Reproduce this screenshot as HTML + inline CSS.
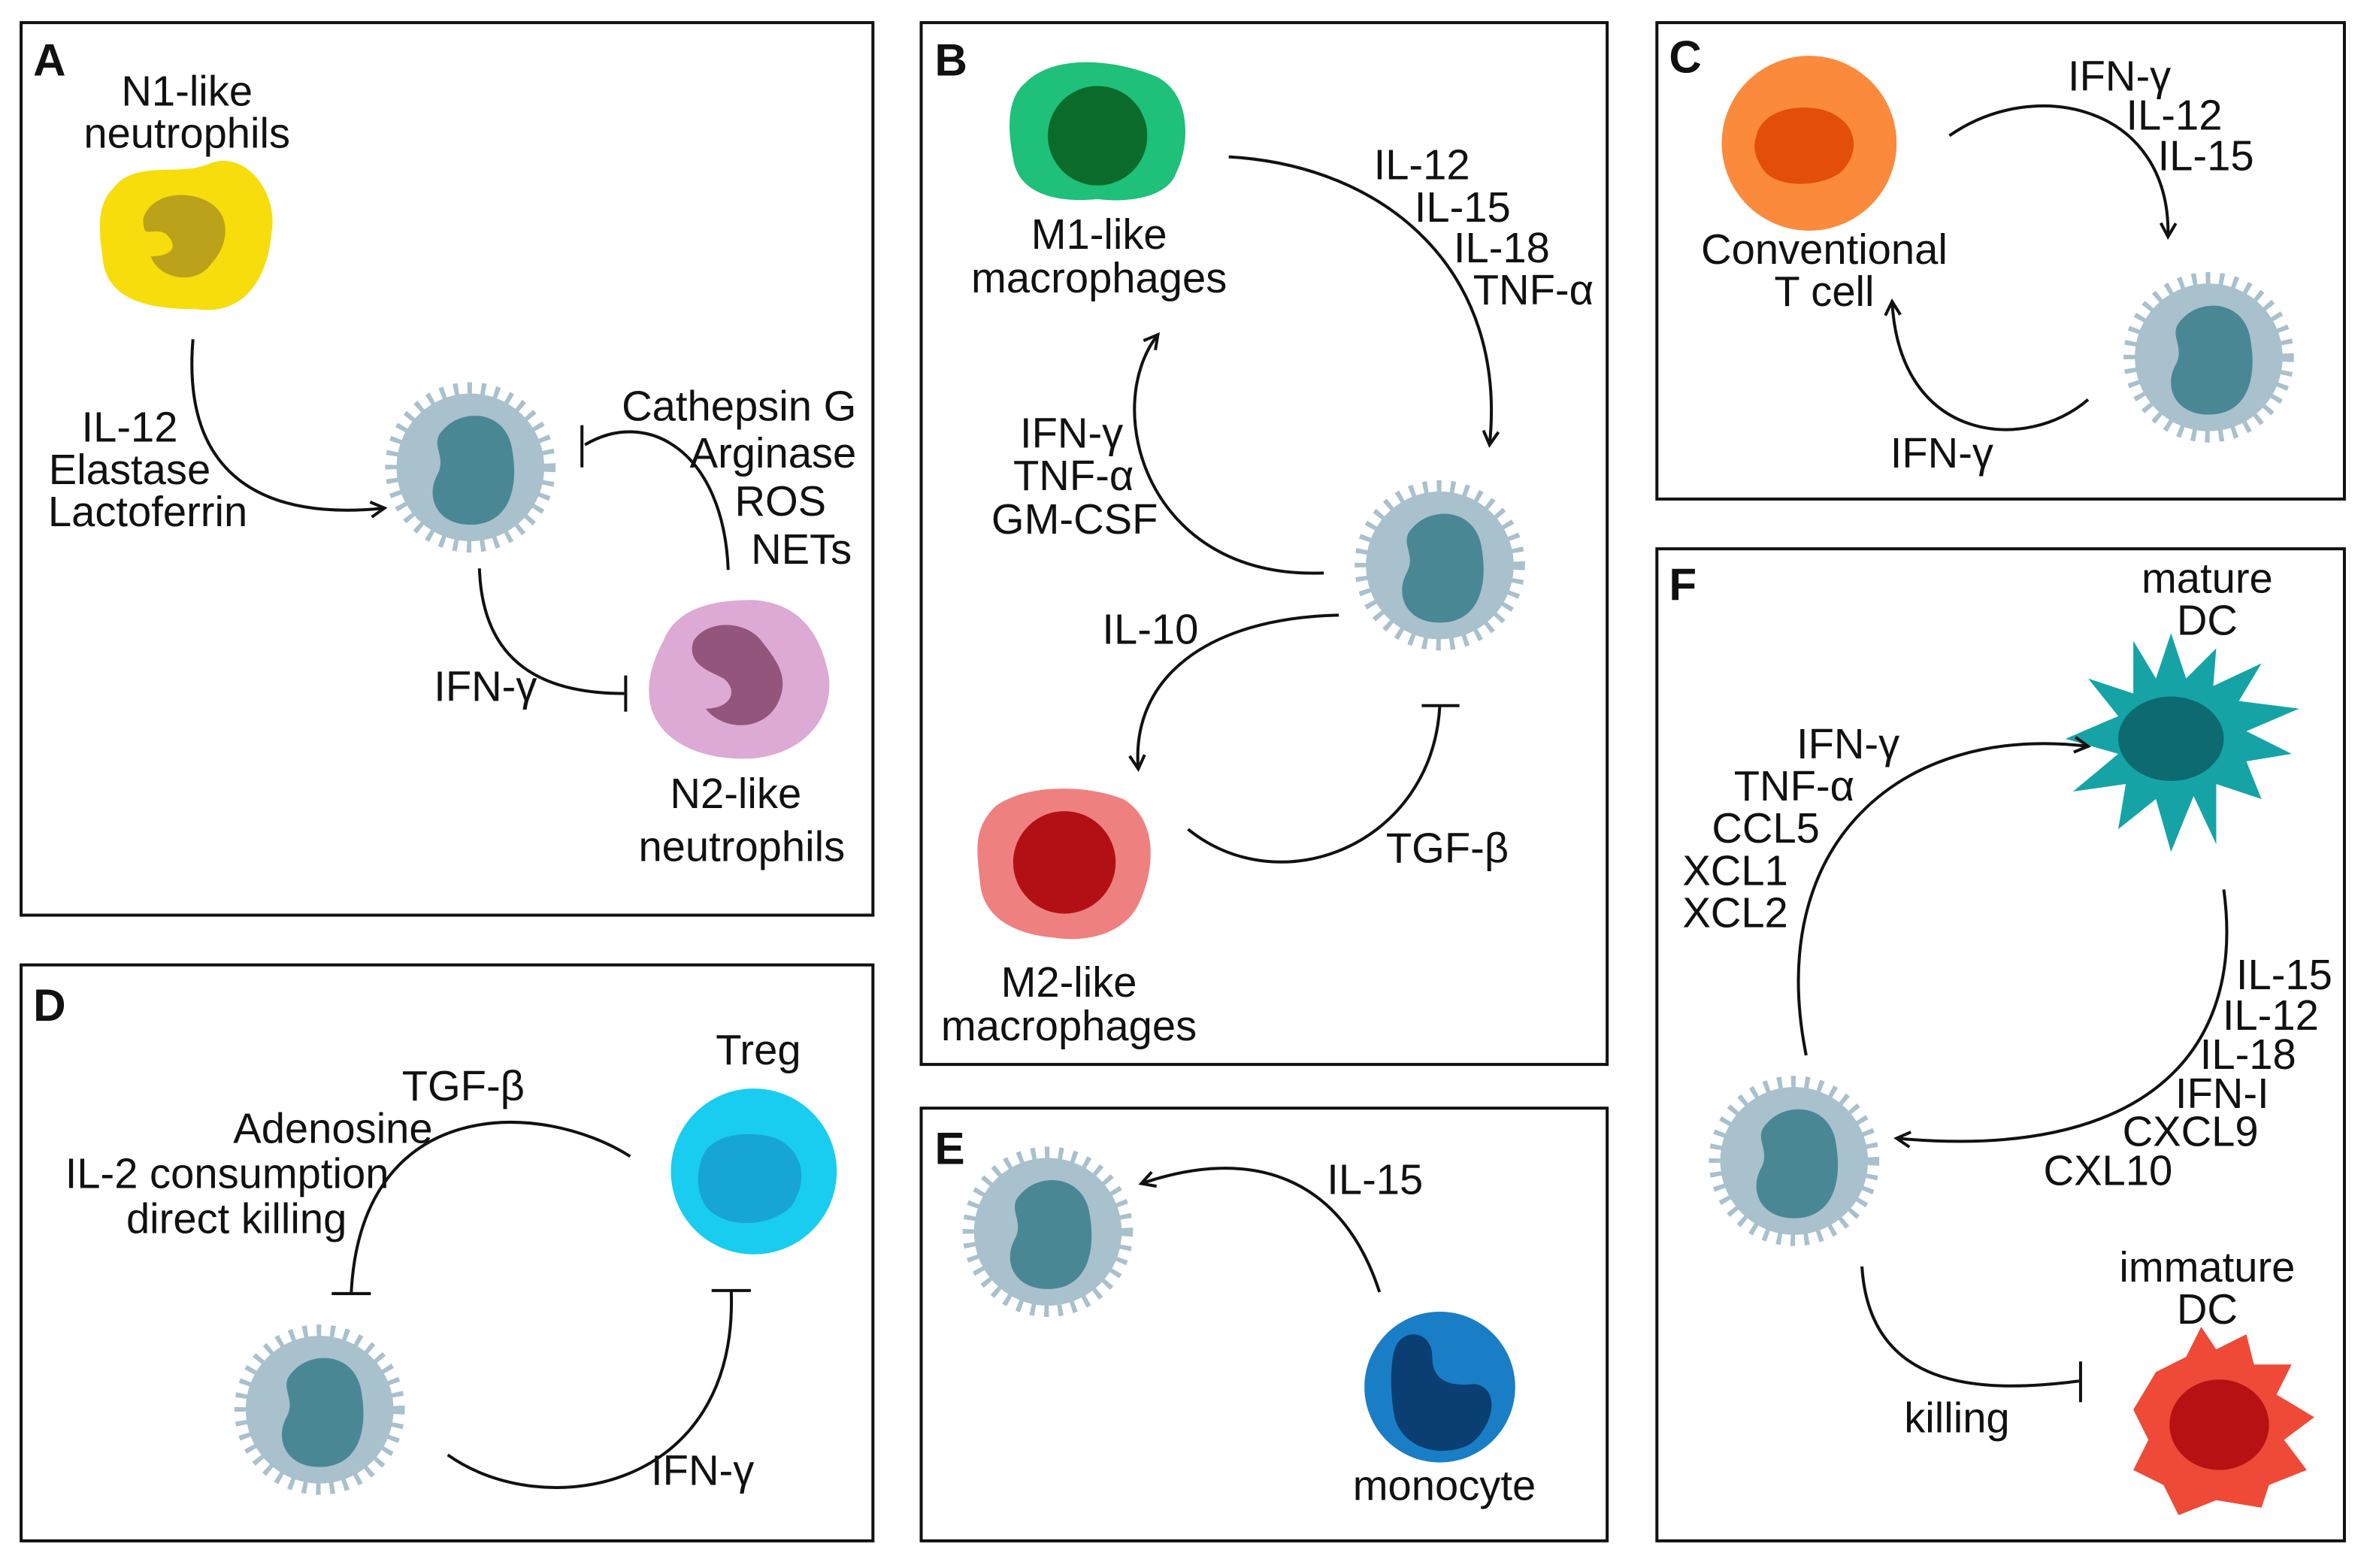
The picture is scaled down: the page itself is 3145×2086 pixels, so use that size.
<!DOCTYPE html>
<html><head><meta charset="utf-8"><style>
html,body{margin:0;padding:0;background:#fff}
svg{display:block}
text{font-family:"Liberation Sans",Arial,sans-serif;font-size:28px;fill:#111}
.L{font-size:30px;font-weight:bold}
.p{fill:#fff;stroke:#111;stroke-width:2}
.c{fill:none;stroke:#111;stroke-width:2}
</style></head><body>
<svg width="3145" height="2086" viewBox="0 0 1568 1040" xmlns="http://www.w3.org/2000/svg">
<defs>
<marker id="ar" viewBox="0 0 12 12" refX="10" refY="6" markerWidth="12" markerHeight="12" markerUnits="userSpaceOnUse" orient="auto">
<path d="M1,1 L10,6 L1,11" fill="none" stroke="#111" stroke-width="2"/></marker>
<g id="nk">
<circle r="52" fill="none" stroke="#a9c0cd" stroke-width="9" stroke-dasharray="3 6"/>
<circle r="49" fill="#a9c0cd"/>
<path d="M-18,-25 C-5,-40 25,-38 28,-10 C32,15 25,38 0,38 C-22,38 -30,20 -22,5 C-15,-8 -28,-15 -18,-25Z" fill="#4a8794"/>
</g>
</defs>
<rect class="p" x="14" y="15" width="565" height="592"/>
<rect class="p" x="611" y="15" width="455" height="691"/>
<rect class="p" x="1099" y="15" width="456" height="316"/>
<rect class="p" x="14" y="640" width="565" height="382"/>
<rect class="p" x="611" y="735" width="455" height="287"/>
<rect class="p" x="1099" y="364" width="456" height="658"/>
<text class="L" x="22" y="50">A</text><text class="L" x="620" y="50">B</text><text class="L" x="1107" y="48">C</text>
<text class="L" x="22" y="677">D</text><text class="L" x="620" y="772">E</text><text class="L" x="1107" y="398">F</text>

<use href="#nk" x="312" y="310"/><use href="#nk" x="955" y="375"/><use href="#nk" x="1465" y="237"/>
<use href="#nk" x="212" y="935"/><use href="#nk" x="695" y="817"/><use href="#nk" x="1190" y="770"/>
<path d="M75,125 C90,105 120,118 140,108 C165,100 185,130 180,155 C178,180 165,210 130,205 C100,205 70,200 68,170 C65,150 65,135 75,125Z" fill="#f7dd0b"/>
<path d="M95,145 C100,128 125,125 140,135 C155,145 150,165 140,175 C130,190 105,185 100,170 C112,170 120,165 110,155 C100,150 95,160 95,145Z" fill="#bba21a"/>
<path d="M440,425 C450,400 480,398 500,398 C530,400 545,420 550,450 C552,480 530,500 500,503 C470,505 440,495 432,470 C428,455 432,440 440,425Z" fill="#dcaad5"/>
<path d="M460,425 C470,410 495,412 505,425 C515,438 525,450 515,468 C505,485 480,485 468,470 C485,470 490,458 480,450 C470,445 455,440 460,425Z" fill="#93557b"/>
<path d="M680,55 C700,35 740,40 765,50 C790,60 790,95 780,115 C775,130 750,135 728,132 C700,135 675,128 672,105 C668,85 668,65 680,55Z" fill="#1ec07a"/>
<ellipse cx="728" cy="90" rx="33" ry="33" fill="#0b6b2a"/>
<path d="M660,535 C680,520 720,520 745,530 C770,545 765,580 755,600 C745,620 720,625 700,622 C675,620 652,610 650,585 C648,565 645,550 660,535Z" fill="#ef8080"/>
<ellipse cx="706" cy="572" rx="34" ry="34" fill="#b31016"/>
<circle cx="1200" cy="95" r="58" fill="#fb8a3c"/>
<path d="M1165,90 C1170,70 1200,68 1215,75 C1235,85 1232,105 1220,115 C1205,125 1175,125 1168,110 C1163,102 1163,96 1165,90Z" fill="#e34e0a"/>
<circle cx="500" cy="777" r="55" fill="#18cdf0"/>
<path d="M465,770 C470,750 500,750 515,755 C535,765 535,785 525,800 C510,815 480,815 468,800 C462,790 462,780 465,770Z" fill="#17a5d6"/>
<circle cx="955" cy="920" r="50" fill="#1a7ec6"/>
<path d="M925,895 C930,880 950,882 950,900 C950,915 960,920 978,918 C995,920 992,945 975,958 C955,968 930,960 925,940 C922,925 922,905 925,895Z" fill="#0b3f74"/>
<path d="M1440,420 L1450,450 L1470,430 L1468,455 L1500,440 L1485,465 L1525,470 L1490,485 L1520,500 L1490,505 L1500,530 L1470,520 L1470,560 L1455,528 L1440,565 L1430,530 L1405,550 L1410,520 L1375,525 L1405,500 L1370,490 L1405,475 L1385,450 L1415,460 L1415,425 L1430,450Z" fill="#15a3a6"/>
<ellipse cx="1440" cy="490" rx="35" ry="28" fill="#0c6a70"/>
<path d="M1430,910 L1450,900 L1460,880 L1470,895 L1490,885 L1495,905 L1520,905 L1510,925 L1535,940 L1515,955 L1530,975 L1505,985 L1500,1000 L1470,995 L1445,1005 L1435,985 L1415,975 L1425,955 L1415,935Z" fill="#ee4a37"/>
<ellipse cx="1472" cy="945" rx="33" ry="30" fill="#b81113"/>

<path class="c" marker-end="url(#ar)" d="M128,225 C120,320 180,345 255,337"/>
<path class="c" d="M483,378 C480,300 430,270 388,295"/><path class="c" d="M386,282 L386,310"/>
<path class="c" d="M318,377 C320,440 360,460 414,460"/><path class="c" d="M415,448 L415,472"/>
<path class="c" marker-end="url(#ar)" d="M815,104 C920,110 1000,180 988,295"/>
<path class="c" marker-end="url(#ar)" d="M878,380 C760,385 730,270 768,222"/>
<path class="c" marker-end="url(#ar)" d="M888,408 C800,410 750,450 755,510"/>
<path class="c" d="M788,550 C850,600 950,560 955,468"/><path class="c" d="M943,468 L968,468"/>
<path class="c" marker-end="url(#ar)" d="M1293,90 C1350,50 1440,70 1438,157"/>
<path class="c" marker-end="url(#ar)" d="M1385,265 C1345,300 1260,295 1255,200"/>
<path class="c" d="M418,767 C360,730 240,725 233,857"/><path class="c" d="M220,858 L246,858"/>
<path class="c" d="M297,965 C360,1010 490,990 485,856"/><path class="c" d="M472,856 L498,856"/>
<path class="c" marker-end="url(#ar)" d="M915,857 C890,780 830,760 757,785"/>
<path class="c" marker-end="url(#ar)" d="M1198,700 C1170,560 1260,480 1385,495"/>
<path class="c" marker-end="url(#ar)" d="M1475,590 C1490,700 1420,770 1258,755"/>
<path class="c" d="M1235,840 C1240,920 1310,925 1379,916"/><path class="c" d="M1380,903 L1380,930"/>

<g text-anchor="middle">
<text x="124" y="70">N1-like</text><text x="124" y="98">neutrophils</text>
<text x="86" y="293">IL-12</text><text x="86" y="321">Elastase</text><text x="98" y="349">Lactoferrin</text>
<text x="322" y="465">IFN-γ</text>
<text x="488" y="536">N2-like</text><text x="492" y="571">neutrophils</text>
<text x="729" y="165">M1-like</text><text x="729" y="194">macrophages</text>
<text x="763" y="427">IL-10</text><text x="960" y="572">TGF-β</text>
<text x="709" y="661">M2-like</text><text x="709" y="690">macrophages</text>
<text x="1210" y="175">Conventional</text><text x="1210" y="203">T cell</text>
<text x="1288" y="310">IFN-γ</text>
<text x="503" y="706">Treg</text><text x="466" y="985">IFN-γ</text>
<text x="912" y="792">IL-15</text><text x="958" y="995">monocyte</text>
<text x="1464" y="393">mature</text><text x="1464" y="421">DC</text>
<text x="1464" y="850">immature</text><text x="1464" y="878">DC</text>
<text x="1298" y="950">killing</text>
</g>
<g text-anchor="end">
<text x="568" y="279">Cathepsin G</text><text x="568" y="310">Arginase</text><text x="548" y="342">ROS</text><text x="565" y="374">NETs</text>
<text x="975" y="119">IL-12</text><text x="1002" y="147">IL-15</text><text x="1028" y="174">IL-18</text><text x="1057" y="202">TNF-α</text>
<text x="745" y="297">IFN-γ</text><text x="752" y="325">TNF-α</text><text x="768" y="354">GM-CSF</text>
<text x="1440" y="60">IFN-γ</text><text x="1474" y="86">IL-12</text><text x="1495" y="113">IL-15</text>
<text x="348" y="730">TGF-β</text><text x="287" y="758">Adenosine</text><text x="258" y="788">IL-2 consumption</text><text x="230" y="818">direct killing</text>
<text x="1260" y="503">IFN-γ</text><text x="1230" y="531">TNF-α</text><text x="1207" y="559">CCL5</text><text x="1186" y="587">XCL1</text><text x="1186" y="615">XCL2</text>
<text x="1547" y="656">IL-15</text><text x="1538" y="683">IL-12</text><text x="1523" y="709">IL-18</text><text x="1505" y="735">IFN-I</text><text x="1498" y="760">CXCL9</text><text x="1441" y="786">CXL10</text>
</g>
</svg>
</body></html>
